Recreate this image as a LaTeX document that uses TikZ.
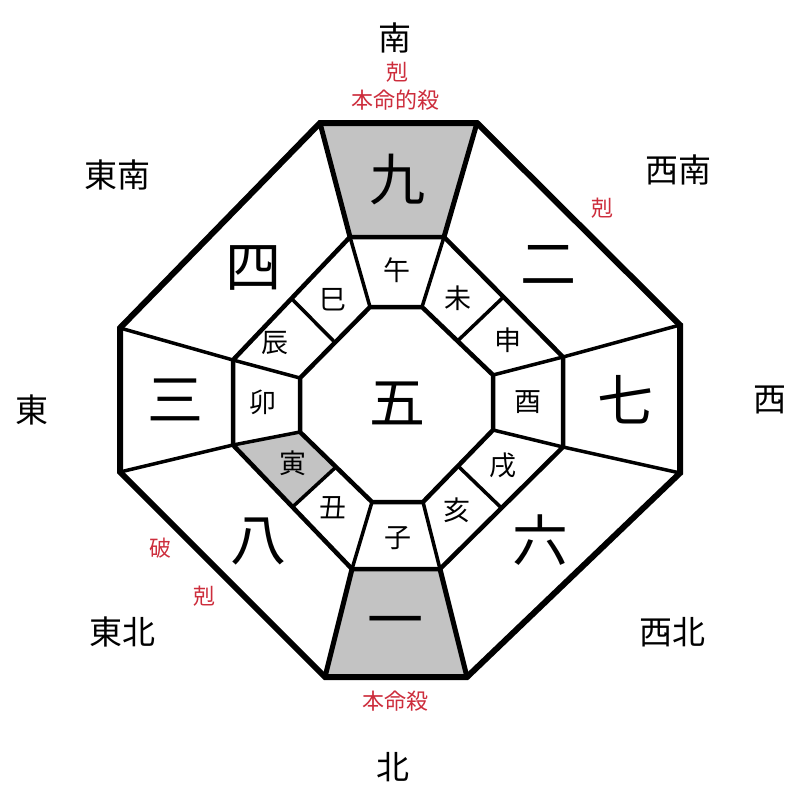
\documentclass[tikz,border=0pt]{standalone}
\usepackage{fontspec}
\newfontfamily\cjk{Noto Sans CJK JP}
\usetikzlibrary{calc}
\definecolor{markred}{RGB}{205,45,60}
\definecolor{shadegray}{RGB}{195,195,195}
\begin{document}
\begin{tikzpicture}[x=1pt,y=-1pt,
  outerline/.style={line width=6pt, line join=miter},
  ringline/.style={line width=4.5pt, line join=miter},
  trapline/.style={line width=5pt},
  radline/.style={line width=3.5pt},
  shadefill/.style={fill=shadegray},
  dirlab/.style={font=\cjk\fontsize{33}{33}\selectfont, inner sep=0pt},
  redlab/.style={text=markred, font=\cjk\fontsize{22}{22}\selectfont, inner sep=0pt},
  numlab/.style={font=\cjk\fontsize{56}{56}\selectfont, inner sep=0pt},
  brlab/.style={font=\cjk\fontsize{27}{27}\selectfont, inner sep=0pt}]
\useasboundingbox[fill=white] (0,0) rectangle (800,800);
% outer octagon
\coordinate (O1) at (320,123); \coordinate (O2) at (477,123);
\coordinate (O3) at (680,325); \coordinate (O4) at (680,473);
\coordinate (O5) at (467,677); \coordinate (O6) at (325,677);
\coordinate (O7) at (120,472); \coordinate (O8) at (120,328);
% middle ring
\coordinate (M1) at (350,237); \coordinate (M2) at (444,237);
\coordinate (M3) at (563,357); \coordinate (M4) at (563,447);
\coordinate (M5) at (440,569); \coordinate (M6) at (352,569);
\coordinate (M7) at (233,445); \coordinate (M8) at (233,360);
% inner octagon
\coordinate (I1) at (370,307); \coordinate (I2) at (422,307);
\coordinate (I3) at (493,375); \coordinate (I4) at (493,430);
\coordinate (I5) at (423,502); \coordinate (I6) at (372,502);
\coordinate (I7) at (300,432); \coordinate (I8) at (300,378);
% midpoints of diagonals
\coordinate (MNW) at ($(M8)!0.5!(M1)$); \coordinate (INW) at ($(I8)!0.5!(I1)$);
\coordinate (MNE) at ($(M2)!0.5!(M3)$); \coordinate (INE) at ($(I2)!0.5!(I3)$);
\coordinate (MSE) at ($(M4)!0.5!(M5)$); \coordinate (ISE) at ($(I4)!0.5!(I5)$);
\coordinate (MSW) at ($(M6)!0.5!(M7)$); \coordinate (ISW) at ($(I6)!0.5!(I7)$);
% shaded regions
\fill[shadefill] (O1) -- (O2) -- (M2) -- (M1) -- cycle;
\fill[shadefill] (O6) -- (O5) -- (M5) -- (M6) -- cycle;
\fill[shadefill] (M7) -- (MSW) -- (ISW) -- (I7) -- cycle;
% radial lines, trigram sectors
\draw[trapline] (O1) -- (M1); \draw[trapline] (O2) -- (M2);
\draw[trapline] (O5) -- (M5); \draw[trapline] (O6) -- (M6);
\draw[radline] (O3) -- (M3); \draw[radline] (O4) -- (M4);
\draw[radline] (O7) -- (M7); \draw[radline] (O8) -- (M8);
% radial lines, branch sectors
\draw[radline] (M1) -- (I1); \draw[radline] (M2) -- (I2);
\draw[radline] (M3) -- (I3); \draw[radline] (M4) -- (I4);
\draw[radline] (M5) -- (I5); \draw[radline] (M6) -- (I6);
\draw[radline] (M7) -- (I7); \draw[radline] (M8) -- (I8);
\draw[radline] (MNW) -- (INW); \draw[radline] (MNE) -- (INE);
\draw[radline] (MSE) -- (ISE); \draw[radline] (MSW) -- (ISW);
% rings
\draw[ringline] (M1) -- (M2) -- (M3) -- (M4) -- (M5) -- (M6) -- (M7) -- (M8) -- cycle;
\draw[ringline] (I1) -- (I2) -- (I3) -- (I4) -- (I5) -- (I6) -- (I7) -- (I8) -- cycle;
\draw[outerline] (O1) -- (O2) -- (O3) -- (O4) -- (O5) -- (O6) -- (O7) -- (O8) -- cycle;
% numbers
\node[numlab] (n9) at (397,180) {九};
\node[numlab] (n4) at (253,268) {四};
\node[numlab] (n2) at (548,265) {二};
\node[numlab] (n3) at (175,400) {三};
\node[numlab] (n7) at (625,400) {七};
\node[numlab] (n8) at (258,542) {八};
\node[numlab] (n6) at (540,540) {六};
\node[numlab] (n1) at (395,628) {一};
\node[numlab] (n5) at (397,403) {五};
% branches
\node[brlab] (bwu) at (397,270) {午};
\node[brlab] (bsi) at (333,300) {巳};
\node[brlab] (bwei) at (458,298) {未};
\node[brlab] (bchen) at (275,343) {辰};
\node[brlab] (bshen) at (508,340) {申};
\node[brlab] (bmao) at (263,402) {卯};
\node[brlab] (byou) at (528,402) {酉};
\node[brlab] (byin) at (293,463) {寅};
\node[brlab] (bxu) at (503,465) {戌};
\node[brlab] (bchou) at (333,508) {丑};
\node[brlab] (bhai) at (457,510) {亥};
\node[brlab] (bzi) at (398,538) {子};
% directions
\node[dirlab] (dS) at (395,38) {南};
\node[dirlab] (dSE) at (117,175) {東南};
\node[dirlab] (dSW) at (678,170) {西南};
\node[dirlab] (dE) at (32,410) {東};
\node[dirlab] (dW) at (770,400) {西};
\node[dirlab] (dNE) at (122,632) {東北};
\node[dirlab] (dNW) at (672,632) {西北};
\node[dirlab] (dN) at (393,767) {北};
% red marks
\node[redlab] (r1) at (397,72) {剋};
\node[redlab] (r2) at (395,100) {本命的殺};
\node[redlab] (r3) at (602,208) {剋};
\node[redlab] (r4) at (160,548) {破};
\node[redlab] (r5) at (204,596) {剋};
\node[redlab] (r6) at (395,701) {本命殺};
\end{tikzpicture}
\end{document}
